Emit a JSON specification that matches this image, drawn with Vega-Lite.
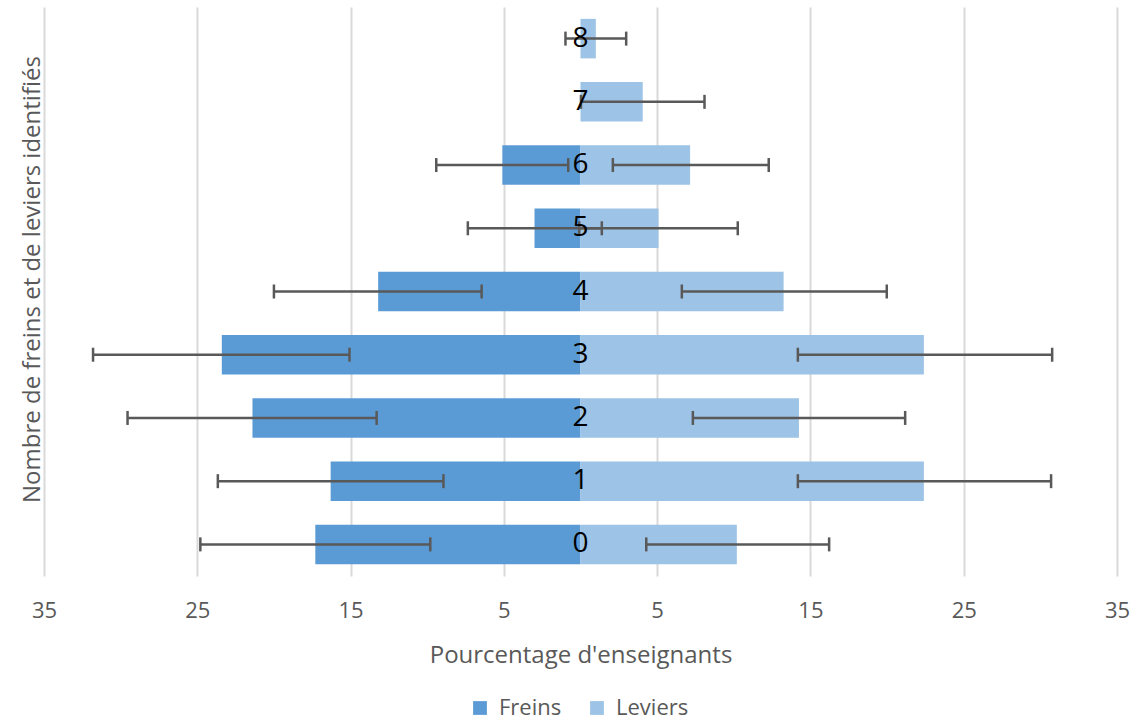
{
  "$schema": "https://vega.github.io/schema/vega-lite/v6.json",
  "autosize": {"type": "none"},
  "padding": {"left": 44, "top": 7, "right": 20, "bottom": 146},
  "width": 1073,
  "height": 569,
  "config": {
    "view": {"stroke": null},
    "font": "Open Sans"
  },
  "datasets": {
    "bars": [
      {"cat": "0", "series": "Freins", "pct": -17.3, "lo": -24.8, "hi": -9.8},
      {"cat": "1", "series": "Freins", "pct": -16.3, "lo": -23.66, "hi": -8.94},
      {"cat": "2", "series": "Freins", "pct": -21.4, "lo": -29.55, "hi": -13.3},
      {"cat": "3", "series": "Freins", "pct": -23.4, "lo": -31.8, "hi": -15.07},
      {"cat": "4", "series": "Freins", "pct": -13.2, "lo": -20.0, "hi": -6.45},
      {"cat": "5", "series": "Freins", "pct": -3.0, "lo": -7.35, "hi": 1.39},
      {"cat": "6", "series": "Freins", "pct": -5.1, "lo": -9.41, "hi": -0.8},
      {"cat": "0", "series": "Leviers", "pct": 10.2, "lo": 4.29, "hi": 16.22},
      {"cat": "1", "series": "Leviers", "pct": 22.4, "lo": 14.18, "hi": 30.7},
      {"cat": "2", "series": "Leviers", "pct": 14.25, "lo": 7.33, "hi": 21.18},
      {"cat": "3", "series": "Leviers", "pct": 22.4, "lo": 14.18, "hi": 30.77},
      {"cat": "4", "series": "Leviers", "pct": 13.25, "lo": 6.61, "hi": 19.98},
      {"cat": "5", "series": "Leviers", "pct": 5.09, "lo": -0.08, "hi": 10.26},
      {"cat": "6", "series": "Leviers", "pct": 7.15, "lo": 2.11, "hi": 12.28},
      {"cat": "7", "series": "Leviers", "pct": 4.06, "lo": 0.03, "hi": 8.09},
      {"cat": "8", "series": "Leviers", "pct": 1.0, "lo": -0.98, "hi": 2.98}
    ],
    "labels": [
      {"cat": "0"}, {"cat": "1"}, {"cat": "2"}, {"cat": "3"}, {"cat": "4"},
      {"cat": "5"}, {"cat": "6"}, {"cat": "7"}, {"cat": "8"}
    ]
  },
  "data": {"name": "bars"},
  "encoding": {
    "y": {
      "field": "cat",
      "type": "nominal",
      "scale": {
        "domain": ["8", "7", "6", "5", "4", "3", "2", "1", "0"],
        "paddingInner": 0.375,
        "paddingOuter": 0.1875
      },
      "axis": {
        "title": "Nombre de freins et de leviers identifiés",
        "titleFontSize": 24,
        "titleFontWeight": "normal",
        "titleColor": "#595959",
        "titlePadding": 0,
        "titleY": 272,
        "labels": false,
        "ticks": false,
        "domain": false,
        "grid": false
      }
    }
  },
  "layer": [
    {
      "mark": {"type": "bar"},
      "encoding": {
        "x": {
          "field": "pct",
          "type": "quantitative",
          "stack": null,
          "scale": {"domain": [-35, 35], "nice": false, "zero": false},
          "axis": {
            "title": "Pourcentage d'enseignants",
            "values": [-35, -25, -15, -5, 5, 15, 25, 35],
            "labelExpr": "format(abs(datum.value), 'd')",
            "labelFontSize": 22,
            "labelColor": "#595959",
            "labelPadding": 24,
            "labelFlush": false,
            "labelOverlap": false,
            "labelBound": false,
            "ticks": false,
            "tickSize": 0,
            "domain": false,
            "grid": true,
            "gridColor": "#d9d9d9",
            "gridWidth": 2,
            "titleFontSize": 24,
            "titleFontWeight": "normal",
            "titleColor": "#595959",
            "titlePadding": 22
          }
        },
        "color": {
          "field": "series",
          "type": "nominal",
          "scale": {"domain": ["Freins", "Leviers"], "range": ["#5b9bd5", "#9dc3e6"]},
          "legend": {
            "title": null,
            "orient": "none",
            "direction": "horizontal",
            "legendX": 425,
            "legendY": 690,
            "symbolType": "square",
            "symbolSize": 190,
            "symbolStrokeWidth": 0,
            "symbolOpacity": 1,
            "labelFontSize": 22,
            "labelColor": "#595959",
            "labelOffset": 8,
            "columnPadding": 24,
            "padding": 0
          }
        }
      }
    },
    {
      "mark": {"type": "rule", "color": "#595959", "strokeWidth": 2.5},
      "encoding": {
        "x": {"field": "lo", "type": "quantitative"},
        "x2": {"field": "hi"}
      }
    },
    {
      "mark": {"type": "tick", "color": "#595959", "thickness": 2.5, "size": 14, "orient": "vertical", "opacity": 1},
      "encoding": {
        "x": {"field": "lo", "type": "quantitative"}
      }
    },
    {
      "mark": {"type": "tick", "color": "#595959", "thickness": 2.5, "size": 14, "orient": "vertical", "opacity": 1},
      "encoding": {
        "x": {"field": "hi", "type": "quantitative"}
      }
    },
    {
      "data": {"name": "labels"},
      "mark": {"type": "text", "fontSize": 28, "color": "#000000", "align": "center", "baseline": "middle"},
      "encoding": {
        "x": {"datum": 0, "type": "quantitative"},
        "text": {"field": "cat", "type": "nominal"}
      }
    }
  ]
}
